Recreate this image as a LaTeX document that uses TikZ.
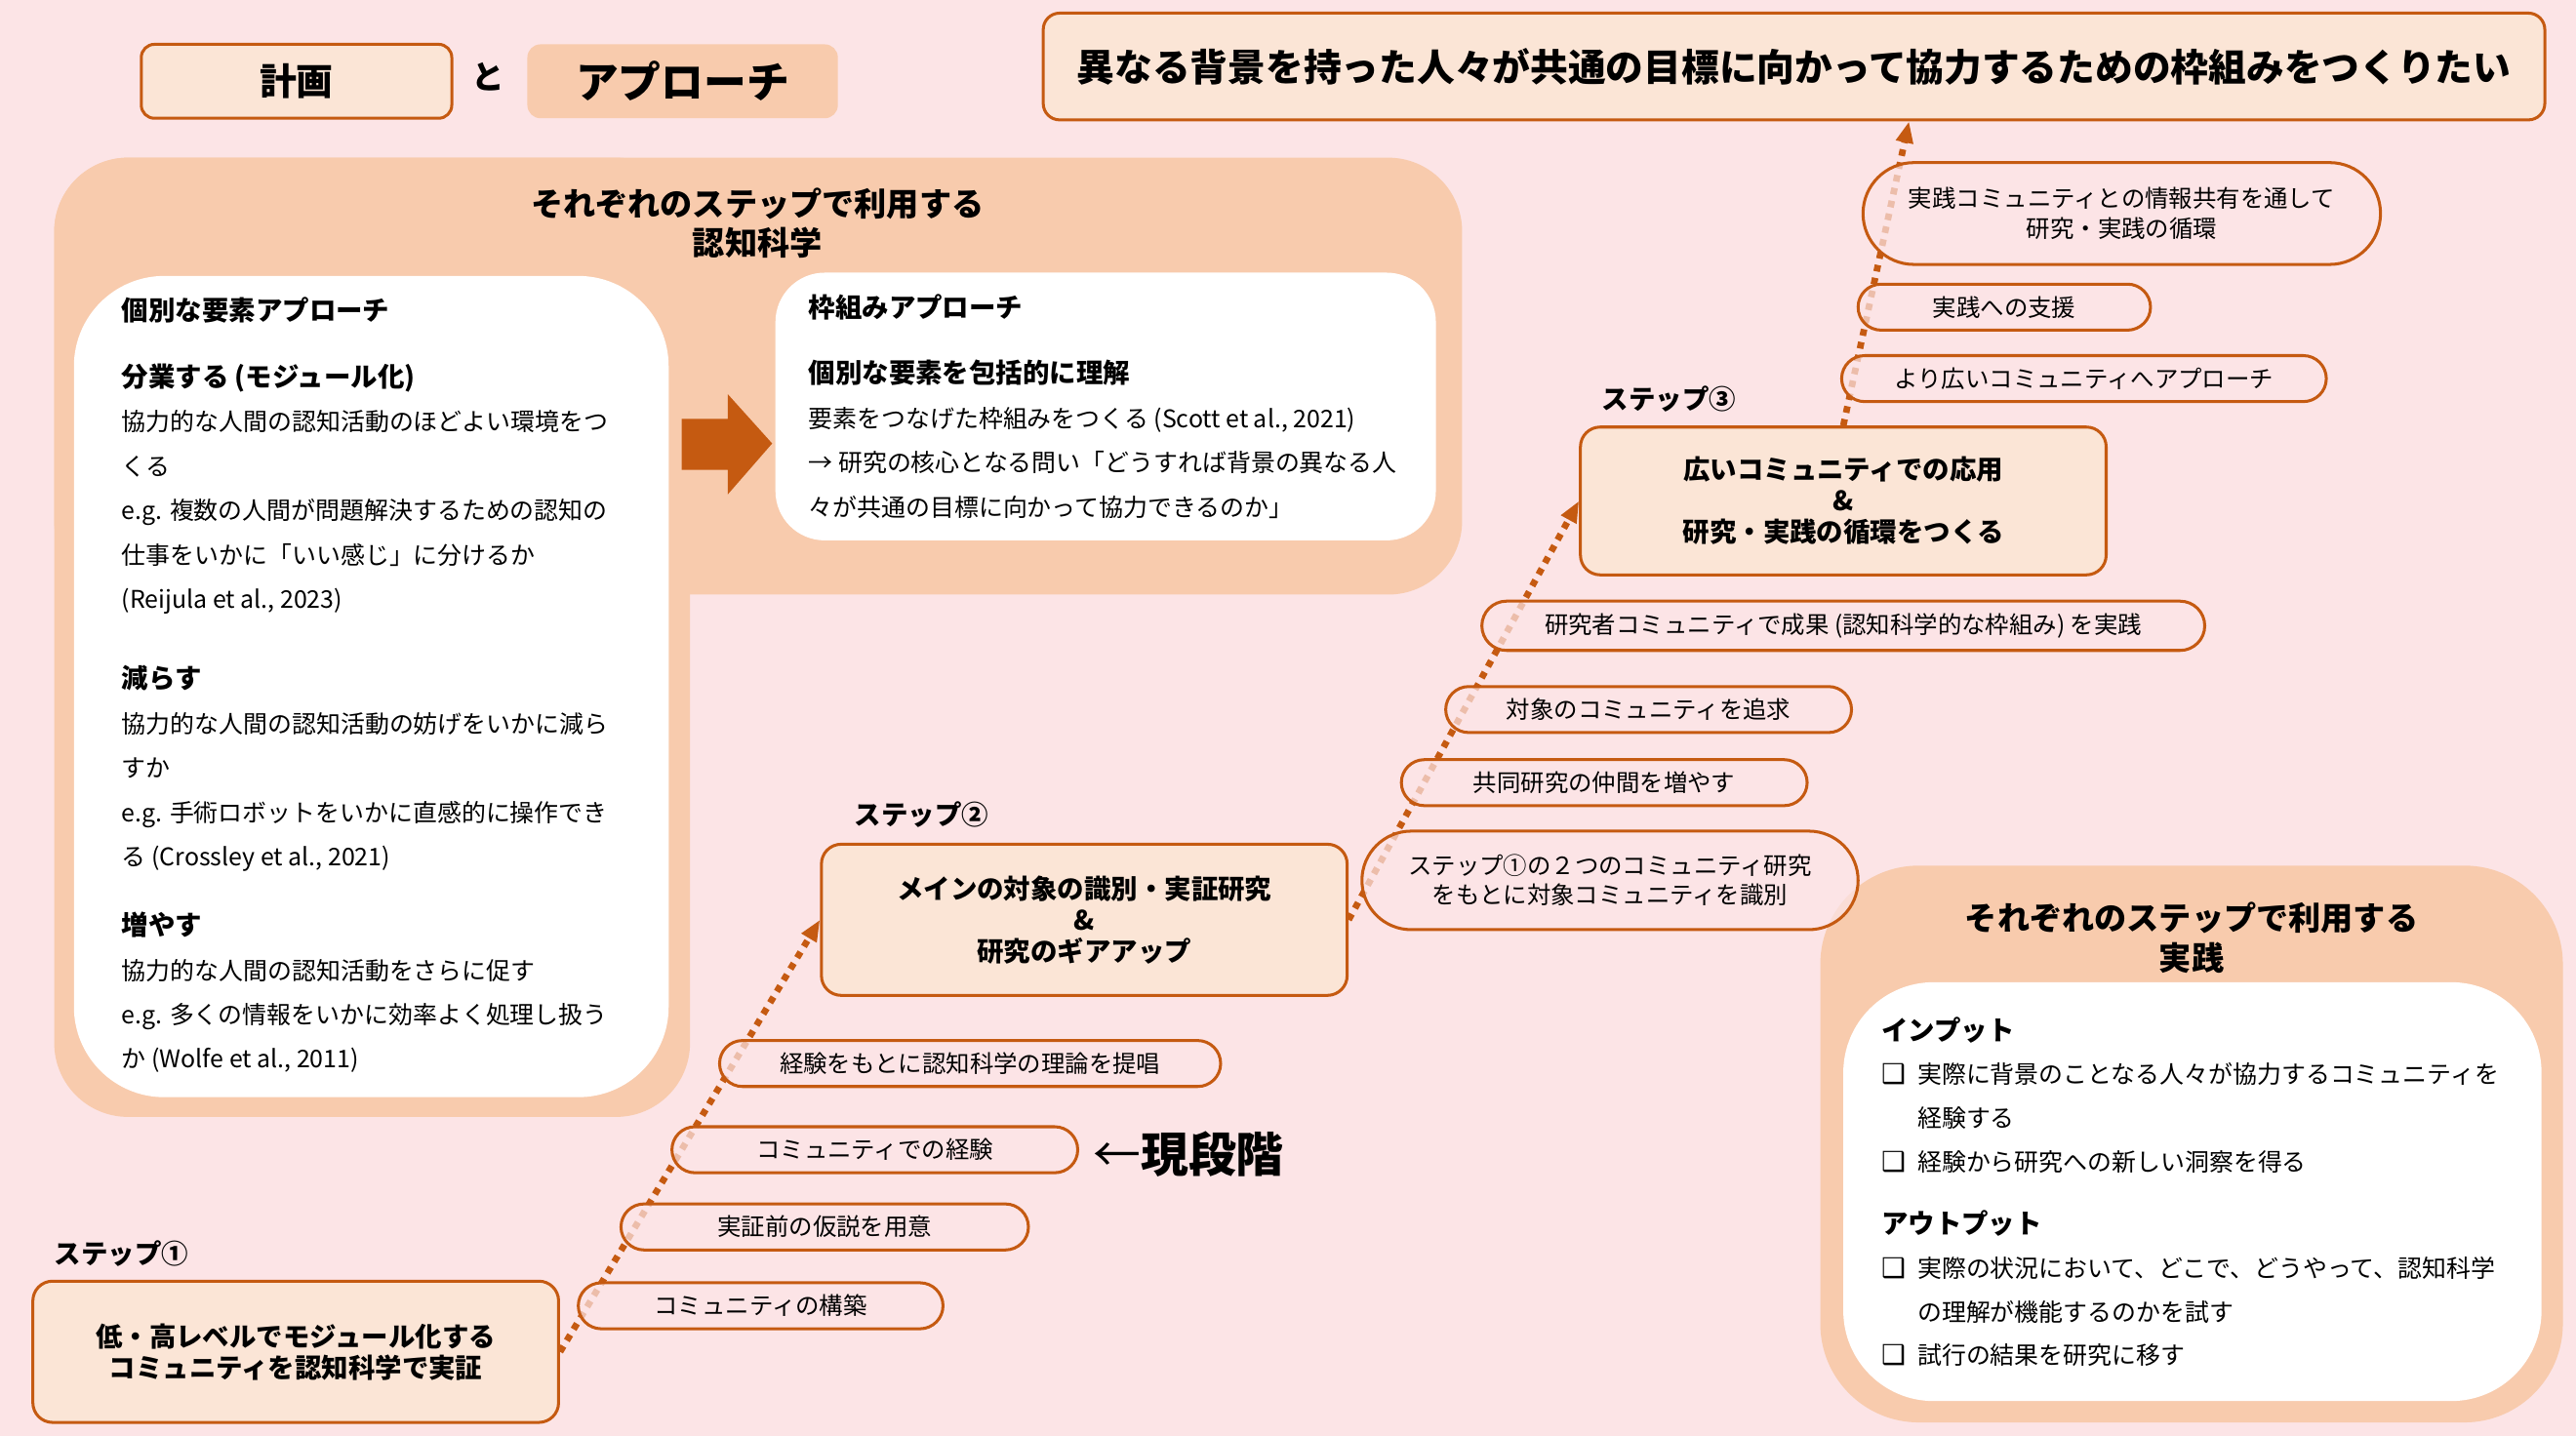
\documentclass[tikz,border=0pt]{standalone}
\usepackage{fontspec}
\setmainfont{Noto Sans CJK JP}
\newfontfamily\chkfont{DejaVu Sans}
\usetikzlibrary{arrows.meta,positioning}
\definecolor{bgpink}{RGB}{252,228,230}
\definecolor{peach}{RGB}{248,203,173}
\definecolor{peachlight}{RGB}{251,229,214}
\definecolor{rust}{RGB}{197,90,17}
\newcommand{\hdfont}{\bfseries\fontsize{16.3}{27}\selectfont}
\newcommand{\chk}{\makebox[22pt][l]{\chkfont\fontsize{16.5}{20}\selectfont ❑}}

\begin{document}
\begin{tikzpicture}[x=1pt, y=-1pt,
    stepbox/.style={rectangle, draw=rust, line width=1.8pt, fill=peachlight,
        rounded corners=12pt, minimum width=320pt, align=center,
        font=\bfseries\fontsize{16.3}{19}\selectfont},
    pill/.style={rectangle, draw=rust, line width=1.8pt, fill=bgpink,
        fill opacity=0.72, text opacity=1, rounded corners=14pt,
        minimum height=28pt, align=center, font=\fontsize{14.5}{18}\selectfont},
    steplabel/.style={anchor=west, inner sep=0pt, font=\bfseries\fontsize{16.3}{19}\selectfont},
    paneltitle/.style={align=center, inner sep=0pt, font=\bfseries\fontsize{19.7}{24}\selectfont},
    bodytext/.style={align=left, inner sep=0pt, font=\fontsize{14.8}{27}\selectfont},
    ladder/.style={rust, line width=4pt, dash pattern=on 4pt off 4pt,
        -{Triangle[length=13pt, width=10pt]}}
]
    % background and panels
    \useasboundingbox (0,0) rectangle (1568,874);
    \fill[bgpink] (0,0) rectangle (1568,874);
    \fill[peach, rounded corners=45pt] (33,96) rectangle (890,362);
    \fill[peach, rounded corners=45pt] (33,96) rectangle (420,680);
    \fill[white, rounded corners=55pt] (45,168) rectangle (407,668);
    \fill[white, rounded corners=30pt] (472,166) rectangle (874,329);
    \fill[peach, rounded corners=60pt] (1108,527) rectangle (1560,866);
    \fill[white, rounded corners=55pt] (1122,598) rectangle (1547,853);
    \fill[rust] (415,255) -- (443,255) -- (443,240) -- (470,270) -- (443,301)
        -- (443,286) -- (415,286) -- cycle;

    % header
    \node[rectangle, draw=rust, line width=1.8pt, fill=peachlight, rounded corners=8pt,
        minimum width=189pt, minimum height=45pt, font=\bfseries\fontsize{22.5}{24}\selectfont]
        (plan) at (180.5,49.5) {計画};
    \node[font=\bfseries\fontsize{20}{22}\selectfont] (and) at (297,47) {と};
    \node[rectangle, fill=peach, rounded corners=8pt, minimum width=189pt, minimum height=45pt,
        font=\bfseries\fontsize{26}{28}\selectfont] (approach) at (415.5,49.5) {アプローチ};
    \node[rectangle, draw=rust, line width=1.8pt, fill=peachlight, rounded corners=10pt,
        minimum width=914pt, minimum height=65pt, font=\bfseries\fontsize{23}{25}\selectfont]
        (goal) at (1092,40.5) {異なる背景を持った人々が共通の目標に向かって協力するための枠組みをつくりたい};

    % cognitive science panel
    \node[paneltitle] (cogtitle) at (461,136) {それぞれのステップで利用する\\認知科学};
    \node[bodytext, anchor=north west] (indiv) at (74,181) {%
        {\hdfont 個別な要素アプローチ}\\[13pt]
        {\hdfont 分業する (モジュール化)}\\
        協力的な人間の認知活動のほどよい環境をつ\\
        くる\\
        e.g. 複数の人間が問題解決するための認知の\\
        仕事をいかに「いい感じ」に分けるか\\
        (Reijula et al., 2023)\\[22pt]
        {\hdfont 減らす}\\
        協力的な人間の認知活動の妨げをいかに減ら\\
        すか\\
        e.g. 手術ロボットをいかに直感的に操作でき\\
        る (Crossley et al., 2021)\\[15pt]
        {\hdfont 増やす}\\
        協力的な人間の認知活動をさらに促す\\
        e.g. 多くの情報をいかに効率よく処理し扱う\\
        か (Wolfe et al., 2011)};
    \node[bodytext, anchor=north west] (frame) at (492,179) {%
        {\hdfont 枠組みアプローチ}\\[13pt]
        {\hdfont 個別な要素を包括的に理解}\\
        要素をつなげた枠組みをつくる (Scott et al., 2021)\\
        → 研究の核心となる問い「どうすれば背景の異なる人\\
        々が共通の目標に向かって協力できるのか」};

    % practice panel
    \node[paneltitle] (practitle) at (1334,571) {それぞれのステップで利用する\\実践};
    \node[bodytext, anchor=north west, font=\fontsize{14.8}{26.5}\selectfont]
        (practext) at (1145,619) {%
        {\hdfont インプット}\\
        \chk 実際に背景のことなる人々が協力するコミュニティを\\
        \hspace*{22pt}経験する\\
        \chk 経験から研究への新しい洞察を得る\\[12pt]
        {\hdfont アウトプット}\\
        \chk 実際の状況において、どこで、どうやって、認知科学\\
        \hspace*{22pt}の理解が機能するのかを試す\\
        \chk 試行の結果を研究に移す};

    % steps
    \node[stepbox, minimum height=86pt] (s1) at (180,823)
        {低・高レベルでモジュール化する\\コミュニティを認知科学で実証};
    \node[stepbox, minimum height=92pt] (s2) at (660,560)
        {メインの対象の識別・実証研究\\\&\\研究のギアアップ};
    \node[stepbox, minimum height=90pt] (s3) at (1122,305)
        {広いコミュニティでの応用\\\&\\研究・実践の循環をつくる};
    \node[steplabel] (s1lab) at (33,763) {ステップ①};
    \node[steplabel] (s2lab) at (520,496) {ステップ②};
    \node[steplabel] (s3lab) at (975,243) {ステップ③};

    \draw[ladder] (s1.east) -- (s2.west);
    \draw[ladder] (s2.east) -- (s3.west);
    \draw[ladder] (s3.north) -- ([xshift=70pt]goal.south);

    % rungs
    \node[pill, minimum width=222pt] (build) at (463,795) {コミュニティの構築};
    \node[pill, minimum width=248pt] (hypo) at (502,747) {実証前の仮説を用意};
    \node[pill, minimum width=247pt] (exper) at (532.5,700) {コミュニティでの経験};
    \node[pill, minimum width=305pt] (theory) at (590.5,647.5) {経験をもとに認知科学の理論を提唱};
    \node[pill, minimum width=302pt, minimum height=60pt, rounded corners=30pt] (ident) at (980,536)
        {ステップ①の２つのコミュニティ研究\\をもとに対象コミュニティを識別};
    \node[pill, minimum width=247pt] (peers) at (976.5,476.5) {共同研究の仲間を増やす};
    \node[pill, minimum width=247pt] (pursue) at (1003.5,432) {対象のコミュニティを追求};
    \node[pill, minimum width=440pt, minimum height=30pt, rounded corners=15pt] (apply) at (1122,381)
        {研究者コミュニティで成果 (認知科学的な枠組み) を実践};
    \node[pill, minimum width=295pt] (wider) at (1268.5,230.5) {より広いコミュニティへアプローチ};
    \node[pill, minimum width=178pt] (support) at (1220,187) {実践への支援};
    \node[pill, minimum width=315pt, minimum height=62pt, rounded corners=31pt] (share) at (1291.5,130)
        {実践コミュニティとの情報共有を通して\\研究・実践の循環};

    \node[font=\fontsize{29}{31}\selectfont] (now) at (723.5,703) {←\textbf{現段階}};
\end{tikzpicture}
\end{document}
